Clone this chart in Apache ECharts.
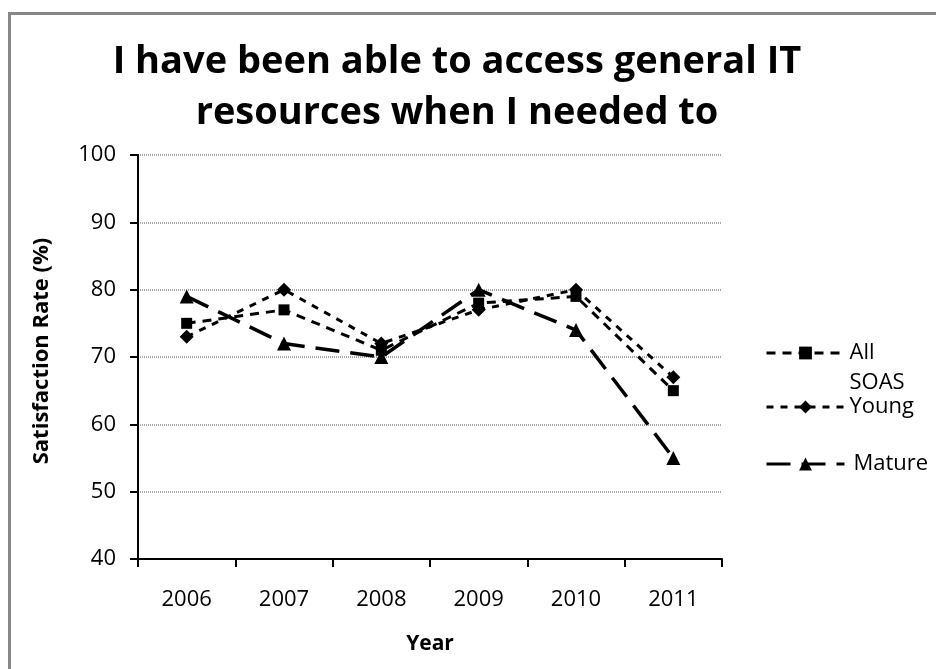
<!DOCTYPE html>
<html>
<head>
<meta charset="utf-8">
<script src="https://cdn.jsdelivr.net/npm/echarts@6/dist/echarts.min.js"></script>
<style>
  html, body { margin: 0; padding: 0; background: #fff; }
  #chart { width: 936px; height: 669px; }
</style>
</head>
<body>
<div id="chart"></div>
<script>
// Survey years and satisfaction rates (%) per student group
const years = ['2006', '2007', '2008', '2009', '2010', '2011'];
const allSoas = [75, 77, 71, 78, 79, 65];
const young = [73, 80, 72, 77, 80, 67];
const mature = [79, 72, 70, 80, 74, 55];

const FONT = '"Open Sans", Lato, sans-serif';
const chart = echarts.init(document.getElementById('chart'), null, { renderer: 'canvas' });

// One legend block per series so each entry sits at its own height
function legendAt(name, top, textStyle, formatter) {
  const entry = {
    data: [name],
    left: 765,
    top: top,
    padding: 0,
    itemWidth: 78,
    itemHeight: 16,
    lineStyle: { width: 3 },
    textStyle: Object.assign({ fontFamily: FONT, fontSize: 22, lineHeight: 26, color: '#000' }, textStyle || {})
  };
  if (formatter) entry.formatter = formatter;
  return entry;
}

chart.setOption({
  backgroundColor: '#fff',
  animation: false,
  title: {
    text: 'I have been able to access general IT\nresources when I needed to',
    left: 452,
    top: 32,
    textAlign: 'center',
    textStyle: { fontFamily: FONT, fontWeight: 'bold', fontSize: 38, lineHeight: 51, color: '#000' }
  },
  graphic: [{
    type: 'rect',
    shape: { x: 9.5, y: 13.5, width: 960, height: 700 },
    style: { fill: 'none', stroke: '#878787', lineWidth: 3 },
    silent: true
  }],
  grid: { left: 138, top: 155, right: 214, bottom: 110 },
  legend: [
    // blank first line keeps the marker level with "All" while "SOAS" wraps below
    legendAt('All SOAS', 308, { lineHeight: 30 }, () => '\u00a0\nAll\nSOAS'),
    legendAt('Young', 394),
    legendAt('Mature', 451, { padding: [0, 0, 0, 4] })
  ],
  xAxis: {
    type: 'category',
    data: years,
    boundaryGap: true,
    axisLine: { lineStyle: { color: '#000', width: 2 } },
    axisTick: { show: true, length: 8, lineStyle: { color: '#000', width: 2 } },
    axisLabel: { fontFamily: FONT, fontSize: 22, color: '#000', margin: 30 },
    name: 'Year',
    nameLocation: 'middle',
    nameGap: 75,
    nameTextStyle: { fontFamily: FONT, fontSize: 21, fontWeight: 'bold', color: '#000' }
  },
  yAxis: {
    type: 'value',
    min: 40,
    max: 100,
    interval: 10,
    axisLine: { show: true, lineStyle: { color: '#000', width: 2 } },
    axisTick: { show: true, length: 8, lineStyle: { color: '#000', width: 2 } },
    axisLabel: { fontFamily: FONT, fontSize: 22, color: '#000', margin: 22 },
    splitLine: { show: true, lineStyle: { color: '#8c8c8c', width: 1.5, type: [1, 1] } },
    name: 'Satisfaction Rate (%)',
    nameLocation: 'middle',
    nameGap: 85,
    nameTextStyle: { fontFamily: FONT, fontSize: 22, fontWeight: 'bold', color: '#000', padding: [0, 0, 0, 12] }
  },
  series: [
    {
      name: 'All SOAS',
      type: 'line',
      data: allSoas,
      symbol: 'rect',
      symbolSize: 11,
      itemStyle: { color: '#000' },
      lineStyle: { color: '#000', width: 3, type: [9, 7] }
    },
    {
      name: 'Young',
      type: 'line',
      data: young,
      symbol: 'diamond',
      symbolSize: 14,
      itemStyle: { color: '#000' },
      lineStyle: { color: '#000', width: 3, type: [7, 7] }
    },
    {
      name: 'Mature',
      type: 'line',
      data: mature,
      symbol: 'triangle',
      symbolSize: 14,
      itemStyle: { color: '#000' },
      lineStyle: { color: '#000', width: 3.5, type: [24, 11] }
    }
  ]
});
</script>
</body>
</html>
